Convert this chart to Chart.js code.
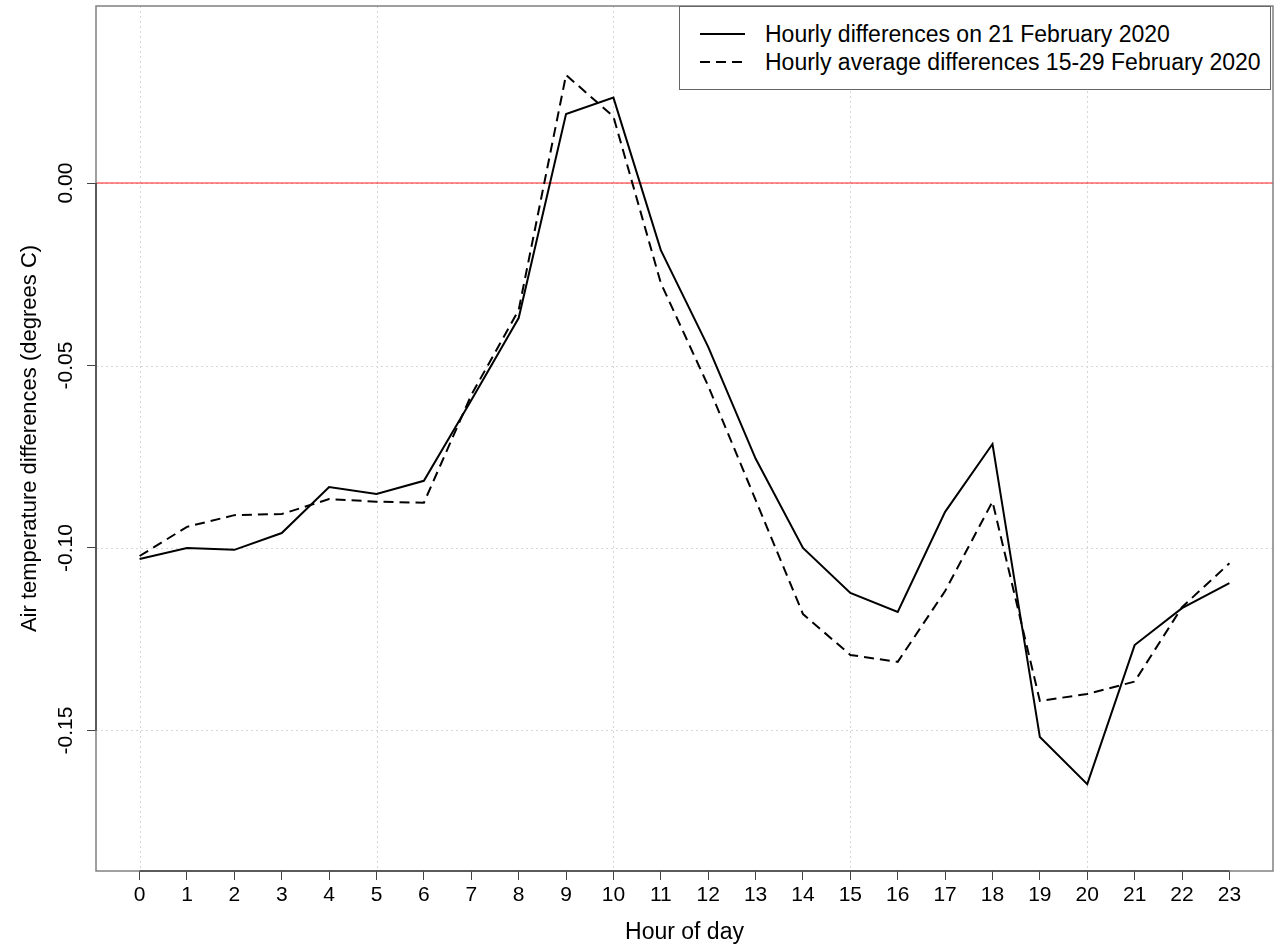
<!DOCTYPE html>
<html>
<head>
<meta charset="utf-8">
<script src="https://cdn.jsdelivr.net/npm/chart.js@4"></script>
<style>
  body { margin: 0; background: #fff; }
  #wrap { position: relative; width: 1286px; height: 946px; }
  #legend {
    position: absolute; left: 679px; top: 6px; width: 592px; height: 84px;
    box-sizing: border-box; border: 1.5px solid #666; background: #fff;
    font-family: "Liberation Sans", Arial, sans-serif; font-size: 23px; color: #000;
  }
  #legend .row { position: absolute; left: 20px; height: 26px; display: flex; align-items: center; white-space: nowrap; }
  #legend svg { margin-right: 20px; }
</style>
</head>
<body>
<div id="wrap">
  <canvas id="chart" width="1286" height="946"></canvas>
  <div id="legend"></div>
</div>
<script>
// hours 0..23
const hours = [0, 1, 2, 3, 4, 5, 6, 7, 8, 9, 10, 11, 12, 13, 14, 15, 16, 17, 18, 19, 20, 21, 22, 23];

// Hourly differences on 21 February 2020
const dayDiff = [-0.103, -0.100, -0.1005, -0.0959, -0.0833, -0.0852, -0.0816, -0.0595, -0.037, 0.0189, 0.0234,
  -0.0184, -0.0449, -0.0755, -0.100, -0.1123, -0.1175, -0.0901, -0.0715, -0.1518, -0.1647, -0.1266, -0.1165, -0.1096];

// Hourly average differences 15-29 February 2020
const avgDiff = [-0.1022, -0.0942, -0.091, -0.0907, -0.0866, -0.0873, -0.0876, -0.0581, -0.0348, 0.0296, 0.0182,
  -0.0274, -0.0556, -0.0868, -0.1181, -0.1293, -0.1312, -0.1118, -0.0873, -0.1419, -0.140, -0.1366, -0.1162, -0.1042];

const seriesLabels = ['Hourly differences on 21 February 2020', 'Hourly average differences 15-29 February 2020'];
const yTicks = [0, -0.05, -0.10, -0.15];
const gridHours = [0, 5, 10, 15, 20];
const refLine = 0;

const FONT = '"Liberation Sans", Arial, sans-serif';
const gridCol = '#d6d6d6';

// R style: dotted grid (every 5th hour), red zero line, box, axis lines, rotated y labels
const rStyle = {
  id: 'rStyle',
  beforeDatasetsDraw(chart) {
    const { ctx, chartArea: a, scales: { x, y } } = chart;
    ctx.save();
    ctx.strokeStyle = gridCol;
    ctx.lineWidth = 1;
    ctx.setLineDash([2, 3]);
    ctx.beginPath();
    gridHours.forEach(h => {
      const px = Math.round(x.getPixelForValue(h)) + 0.5;
      ctx.moveTo(px, a.top);
      ctx.lineTo(px, a.bottom);
    });
    yTicks.forEach(v => {
      const py = Math.round(y.getPixelForValue(v)) + 0.5;
      ctx.moveTo(a.left, py);
      ctx.lineTo(a.right, py);
    });
    ctx.stroke();

    ctx.setLineDash([]);
    ctx.strokeStyle = 'rgba(255,0,0,0.6)';
    ctx.lineWidth = 1.5;
    const p0 = y.getPixelForValue(refLine);
    ctx.beginPath();
    ctx.moveTo(a.left, p0);
    ctx.lineTo(a.right, p0);
    ctx.stroke();
    ctx.restore();
  },
  afterDraw(chart) {
    const { ctx, chartArea: a, scales: { x, y } } = chart;
    ctx.save();
    ctx.strokeStyle = '#808080';
    ctx.lineWidth = 1.5;
    ctx.strokeRect(a.left, a.top, a.right - a.left, a.bottom - a.top);

    // axis lines between first and last tick, darker like R's axis()
    ctx.strokeStyle = '#444';
    ctx.beginPath();
    ctx.moveTo(x.getPixelForValue(hours[0]), a.bottom);
    ctx.lineTo(x.getPixelForValue(hours[hours.length - 1]), a.bottom);
    ctx.moveTo(a.left, y.getPixelForValue(yTicks[0]));
    ctx.lineTo(a.left, y.getPixelForValue(yTicks[yTicks.length - 1]));
    ctx.stroke();

    ctx.font = '21px ' + FONT;
    ctx.fillStyle = '#000';
    ctx.textAlign = 'center';
    ctx.textBaseline = 'middle';
    yTicks.forEach(v => {
      ctx.save();
      ctx.translate(y.right - 30, y.getPixelForValue(v));
      ctx.rotate(-Math.PI / 2);
      ctx.fillText(v.toFixed(2), 0, 0);
      ctx.restore();
    });
    ctx.restore();
  }
};

new Chart(document.getElementById('chart'), {
  type: 'line',
  data: {
    datasets: [
      {
        label: seriesLabels[0],
        data: hours.map((h, i) => ({ x: h, y: dayDiff[i] })),
        borderColor: '#000',
        borderWidth: 2,
        fill: false
      },
      {
        label: seriesLabels[1],
        data: hours.map((h, i) => ({ x: h, y: avgDiff[i] })),
        borderColor: '#000',
        borderWidth: 2,
        borderDash: [10, 6],
        fill: false
      }
    ]
  },
  options: {
    responsive: false,
    animation: false,
    layout: { padding: { top: 6, right: 13, left: 0, bottom: 0 } },
    elements: { point: { radius: 0 }, line: { tension: 0 } },
    plugins: { legend: { display: false }, tooltip: { enabled: false } },
    scales: {
      x: {
        type: 'linear',
        min: -0.92,
        max: 23.92,
        afterBuildTicks: s => { s.ticks = hours.map(v => ({ value: v })); },
        afterFit: s => { s.height = 75; },
        ticks: {
          color: '#000', font: { family: FONT, size: 21 }, padding: 3,
          autoSkip: false, maxRotation: 0, callback: v => String(v)
        },
        grid: { drawOnChartArea: false, color: '#444', tickColor: '#444', tickLength: 9, lineWidth: 1 },
        border: { display: false },
        title: {
          display: true, text: 'Hour of day', color: '#000',
          font: { family: FONT, size: 23 }, padding: { top: 0, bottom: 0 }
        }
      },
      y: {
        min: -0.1885,
        max: 0.0485,
        afterBuildTicks: s => { s.ticks = yTicks.map(v => ({ value: v })); },
        afterFit: s => { s.width = 96; },
        ticks: { display: false },
        grid: { drawOnChartArea: false, color: '#444', tickColor: '#444', tickLength: 9, lineWidth: 1 },
        border: { display: false },
        title: {
          display: true, text: 'Air temperature differences (degrees C)', color: '#000',
          font: { family: FONT, size: 22 }, padding: { top: 17, bottom: 0 }
        }
      }
    }
  },
  plugins: [rStyle]
});

// legend box in the top right corner
const legend = document.getElementById('legend');
const dashes = [null, '10 6'];
seriesLabels.forEach((lab, i) => {
  const row = document.createElement('div');
  row.className = 'row';
  row.style.top = (14 + i * 28) + 'px';
  row.innerHTML =
    '<svg width="45" height="4"><line x1="0" y1="2" x2="45" y2="2" stroke="#000" stroke-width="2"' +
    (dashes[i] ? ' stroke-dasharray="' + dashes[i] + '"' : '') + '/></svg><span>' + lab + '</span>';
  legend.appendChild(row);
});
</script>
</body>
</html>
